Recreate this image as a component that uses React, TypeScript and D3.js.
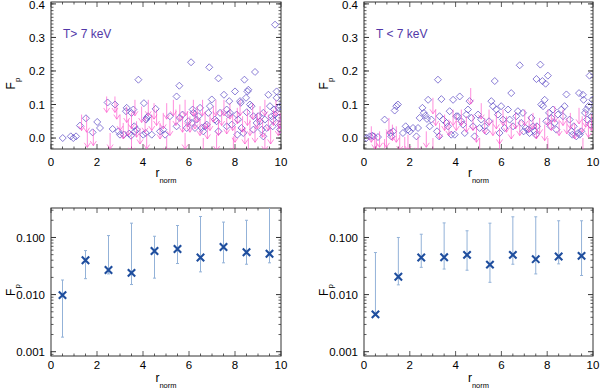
import React from 'react'
import * as d3 from 'd3'

const W = 600
const H = 391

// top row: single measurements (diamonds) and upper limits (arrows)
const hotDiaR = [0.51, 0.86, 0.97, 1.09, 1.26, 1.52, 1.81, 2.01, 2.13, 2.46, 2.78, 2.68, 2.93, 3.0, 3.17, 3.26, 3.29, 3.5, 3.58, 3.4, 3.48, 3.65, 3.72, 3.62, 3.8, 4.01, 4.12, 4.04, 4.16, 4.22, 4.13, 4.55, 4.38, 4.74, 4.88, 4.96, 5.17, 5.46, 5.58, 5.46, 5.6, 5.72, 5.9, 5.97, 6.09, 6.16, 6.19, 6.12, 6.26, 6.33, 6.48, 6.41, 6.55, 6.62, 6.7, 6.88, 6.84, 6.91, 6.99, 6.77, 7.28, 7.13, 7.2, 7.35, 7.28, 7.52, 7.64, 7.71, 7.78, 7.75, 7.64, 7.86, 8.0, 8.07, 8.14, 8.22, 8.25, 8.1, 8.28, 8.36, 8.41, 8.48, 8.51, 8.54, 8.58, 8.65, 8.72, 8.8, 8.8, 8.87, 8.94, 9.01, 9.09, 9.16, 9.23, 9.3, 9.23, 9.38, 9.45, 9.52, 9.6, 9.64, 9.74, 9.81, 9.81, 9.7, 9.64, 9.74, 9.88, 9.96, 9.88, 9.96, 9.96]
const hotDiaF = [0, 0.005, 0, 0.005, 0.037, 0.059, 0.017, 0.048, 0.03, 0.106, 0.1, 0.027, 0.02, 0.01, 0.01, 0.08, 0.09, 0.075, 0.085, 0.013, 0.007, 0.02, 0.025, 0.035, 0.174, 0.01, 0.015, 0.104, 0.06, 0.065, 0.055, 0.087, 0.01, 0.02, 0.025, 0.01, 0.065, 0.124, 0.156, 0.035, 0.06, 0.07, 0.03, 0.05, 0.226, 0.085, 0.075, 0.045, 0.03, 0.055, 0.09, 0.065, 0.03, 0.02, 0.035, 0.211, 0.075, 0.095, 0.115, 0.04, 0.178, 0.055, 0.05, 0.075, 0.02, 0.129, 0.085, 0.07, 0.075, 0.11, 0.035, 0.04, 0.139, 0.07, 0.055, 0.11, 0.105, 0.01, 0.03, 0.015, 0.174, 0.12, 0.077, 0.139, 0.144, 0.1, 0.095, 0.065, 0.025, 0.197, 0.045, 0.065, 0.05, 0.025, 0.075, 0.055, 0.005, 0.03, 0.129, 0.095, 0.065, 0.055, 0.338, 0.139, 0.12, 0.085, 0.035, 0.07, 0.09, 0.095, 0.06, 0.04, 0.025]
const hotLimR = [1.33, 1.55, 1.84, 2.42, 2.78, 2.86, 3.0, 3.14, 3.29, 3.36, 3.5, 3.65, 3.72, 3.87, 3.94, 4.09, 4.23, 4.38, 4.48, 4.59, 4.74, 4.88, 5.03, 5.17, 5.32, 5.43, 5.6, 5.72, 5.83, 5.93, 6.04, 6.19, 6.26, 6.36, 6.48, 6.59, 6.7, 6.8, 6.91, 7.06, 7.17, 7.28, 7.42, 7.52, 7.64, 7.78, 7.9, 8.0, 8.1, 8.22, 8.33, 8.43, 8.54, 8.65, 8.77, 8.87, 8.97, 9.09, 9.2, 9.3, 9.45, 9.55, 9.67, 9.78, 9.88, 9.96, 1.58, 2.57, 3.5, 4.16, 5.03, 5.83, 6.62, 7.2, 7.93, 8.58, 9.3]
const hotLimF = [0.07, 0.065, 0.025, 0.124, 0.124, 0.104, 0.07, 0.045, 0.094, 0.055, 0.075, 0.114, 0.05, 0.03, 0.094, 0.065, 0.114, 0.07, 0.104, 0.085, 0.045, 0.075, 0.104, 0.055, 0.114, 0.085, 0.1, 0.065, 0.114, 0.08, 0.065, 0.114, 0.075, 0.095, 0.055, 0.114, 0.075, 0.045, 0.07, 0.095, 0.114, 0.055, 0.085, 0.114, 0.06, 0.104, 0.07, 0.035, 0.09, 0.114, 0.065, 0.03, 0.085, 0.055, 0.104, 0.035, 0.075, 0.095, 0.05, 0.114, 0.07, 0.03, 0.085, 0.114, 0.055, 0.075, 0.02, 0.015, 0.005, 0.015, 0.005, 0.015, 0, 0.01, 0.005, 0, 0.01]

const coolDiaR = [0.1, 0.25, 0.36, 0.42, 0.61, 0.9, 1.19, 1.15, 1.34, 1.41, 1.48, 1.27, 1.7, 1.82, 1.92, 2.0, 2.14, 2.29, 2.36, 2.43, 2.55, 2.61, 2.69, 2.75, 2.8, 2.87, 2.94, 3.23, 3.28, 3.19, 3.3, 3.38, 3.45, 3.6, 3.67, 3.74, 3.89, 3.81, 3.96, 4.03, 4.1, 4.18, 4.25, 4.32, 4.4, 4.47, 4.54, 4.61, 4.69, 4.76, 4.83, 4.98, 5.12, 5.05, 5.27, 5.34, 5.46, 5.56, 5.63, 5.71, 5.78, 5.85, 5.92, 5.99, 6.07, 6.14, 6.29, 6.36, 6.43, 6.51, 6.65, 6.72, 6.8, 6.87, 6.94, 6.97, 7.06, 7.16, 7.23, 7.31, 7.38, 7.45, 7.5, 7.55, 7.53, 7.7, 7.74, 7.82, 7.89, 7.79, 7.93, 8.03, 7.96, 8.08, 8.14, 8.18, 8.25, 8.33, 8.4, 8.47, 8.62, 8.69, 8.76, 8.84, 8.98, 9.06, 9.1, 9.16, 9.39, 9.56, 9.59, 9.27, 9.35, 9.42, 9.49, 9.65, 9.71, 9.74, 9.8, 9.85, 9.88, 9.93, 9.97]
const coolDiaF = [0, 0.005, 0.007, 0.005, 0.003, 0.055, 0.005, 0.015, 0.082, 0.095, 0.1, 0.02, 0.015, 0.035, 0.025, 0.02, 0.03, 0.005, 0.03, 0.06, 0.09, 0.075, 0.067, 0.057, 0.114, 0.035, 0.055, 0.174, 0.005, 0.02, 0.065, 0.116, 0.055, 0.045, 0.035, 0.08, 0.114, 0.01, 0.01, 0.065, 0.065, 0.124, 0.05, 0.04, 0.015, 0.07, 0.085, 0.11, 0.06, 0.035, 0.005, 0.07, 0.055, 0.03, 0.035, 0.02, 0.05, 0.11, 0.095, 0.17, 0.085, 0.07, 0.015, 0.095, 0.055, 0.03, 0.085, 0.055, 0.134, 0.035, 0.065, 0.08, 0.217, 0.045, 0.075, 0.02, 0.03, 0.025, 0.015, 0.06, 0.035, 0.02, 0.01, 0.035, 0.176, 0.219, 0.1, 0.095, 0.114, 0.17, 0.162, 0.186, 0.05, 0.075, 0.035, 0.06, 0.085, 0.045, 0.025, 0.07, 0.085, 0.065, 0.095, 0.13, 0.055, 0.02, 0.01, 0.035, 0.134, 0.129, 0.114, 0.005, 0.015, 0.01, 0.02, 0.075, 0.085, 0.055, 0.095, 0.186, 0.04, 0.065, 0.114]
const coolLimR = [0.32, 0.47, 0.68, 0.98, 1.09, 1.24, 1.41, 1.56, 1.92, 2.36, 2.72, 3.01, 3.13, 3.3, 3.52, 3.71, 3.89, 4.03, 4.25, 4.66, 4.47, 4.76, 4.91, 5.12, 5.27, 5.46, 5.63, 5.78, 5.92, 6.07, 6.22, 6.43, 6.62, 6.8, 7.02, 7.21, 7.38, 7.53, 7.67, 7.89, 8.03, 8.18, 8.33, 8.52, 8.69, 8.86, 9.01, 9.2, 9.39, 9.53, 9.68, 9.8, 9.93, 0.54, 0.9, 1.78, 3.01, 5.05, 5.92, 8.03, 9.56]
const coolLimF = [0.035, 0.015, 0.02, 0.02, 0.06, 0.04, 0.035, 0.01, 0.01, 0.005, 0.02, 0.12, 0.085, 0.045, 0.07, 0.055, 0.085, 0.07, 0.085, 0.149, 0.065, 0.07, 0.035, 0.104, 0.06, 0.085, 0.055, 0.075, 0.03, 0.085, 0.065, 0.045, 0.075, 0.055, 0.085, 0.065, 0.075, 0.045, 0.06, 0.04, 0.085, 0.07, 0.095, 0.055, 0.085, 0.06, 0.075, 0.045, 0.09, 0.065, 0.08, 0.05, 0.07, 0, -0.003, 0.003, 0, 0, -0.003, 0, 0]

// bottom row: binned values with error bars
const binR = [0.5, 1.5, 2.5, 3.5, 4.5, 5.5, 6.5, 7.5, 8.5, 9.5]
const hotFp = [0.0098, 0.040, 0.027, 0.024, 0.058, 0.063, 0.0445, 0.068, 0.055, 0.052]
const hotLo = [0.0018, 0.019, 0.023, 0.015, 0.0194, 0.035, 0.025, 0.036, 0.034, 0.036]
const hotHi = [0.018, 0.059, 0.108, 0.178, 0.105, 0.162, 0.233, 0.186, 0.2, 0.4]
const coolFp = [0.0045, 0.0205, 0.0445, 0.045, 0.0496, 0.0335, 0.0496, 0.0417, 0.0464, 0.0477]
const coolLo = [0.0045, 0.0148, 0.030, 0.028, 0.0267, 0.0164, 0.034, 0.023, 0.0345, 0.0216]
const coolHi = [0.0545, 0.1, 0.114, 0.18, 0.131, 0.178, 0.23, 0.23, 0.196, 0.196]

const rTicks = [0, 2, 4, 6, 8, 10]
const linTicks = [0, 0.1, 0.2, 0.3, 0.4]
const linLabels = ['0.0', '0.1', '0.2', '0.3', '0.4']
const logTicks = [0.001, 0.01, 0.1]
const logLabels = ['0.001', '0.010', '0.100']

const FONT = 'Liberation Sans, Arial, Helvetica, sans-serif'
const AXIS = '#333'
const DIA = '#5a48c4'
const LIM = '#ff48c8'
const CROSS = '#1f4e9e'
const ERR = '#93b2d8'

type Box = { x0: number, x1: number, y0: number, y1: number }

function Frame ({ id, box, x, y, yTicks, yLabels, yMinor, tickY, rY }: any) {
  const xMinor = d3.range(0, 21).map(i => i / 2)
  const { x0, x1, y0, y1 } = box
  return (
    <g>
      <rect x={x0} y={y0} width={x1 - x0} height={y1 - y0} fill='none' stroke={AXIS} strokeWidth={1} />
      {xMinor.map((v: number) => {
        const len = v % 2 === 0 ? 5 : 2.5
        return (
          <g key={'xm' + v} stroke={AXIS} strokeWidth={0.8}>
            <line x1={x(v)} x2={x(v)} y1={y1} y2={y1 - len} />
            <line x1={x(v)} x2={x(v)} y1={y0} y2={y0 + len} />
          </g>
        )
      })}
      {yMinor.map((v: number, i: number) => (
        <g key={'ym' + i} stroke={AXIS} strokeWidth={0.8}>
          <line x1={x0} x2={x0 + 2.5} y1={y(v)} y2={y(v)} />
          <line x1={x1} x2={x1 - 2.5} y1={y(v)} y2={y(v)} />
        </g>
      ))}
      {yTicks.map((v: number, i: number) => (
        <g key={'yt' + i}>
          <line x1={x0} x2={x0 + 5} y1={y(v)} y2={y(v)} stroke={AXIS} />
          <line x1={x1} x2={x1 - 5} y1={y(v)} y2={y(v)} stroke={AXIS} />
          <text x={x0 - 6} y={Math.max(y(v), 5)} dy='0.36em' textAnchor='end' fontSize={11.5} fontFamily={FONT}>{yLabels[i]}</text>
        </g>
      ))}
      {rTicks.map(v => (
        <text key={'xt' + v} x={x(v)} y={tickY} textAnchor='middle' fontSize={11.5} fontFamily={FONT}>{v}</text>
      ))}
      <text x={(x0 + x1) / 2} y={rY} textAnchor='middle' fontSize={12} fontFamily={FONT}>
        r<tspan dy={6} fontSize={7.5}>norm</tspan>
      </text>
      <text transform={`translate(${x0 - 36},${(y0 + y1) / 2 + 8}) rotate(-90)`} textAnchor='middle' fontSize={12} fontFamily={FONT}>
        F<tspan dy={5} fontSize={8}>p</tspan>
      </text>
      <clipPath id={id}>
        <rect x={x0} y={y0} width={x1 - x0} height={y1 - y0} />
      </clipPath>
    </g>
  )
}

function Scatter ({ id, box, diaR, diaF, limR, limF, label }: any) {
  const b: Box = box
  const x = d3.scaleLinear().domain([0, 10]).range([b.x0, b.x1])
  const y = d3.scaleLinear().domain([-0.0327, 0.4057]).range([b.y1, b.y0])
  const yMinor = d3.range(-3, 41).map(i => i / 100)
  const s = 3.5
  return (
    <g>
      <Frame id={id} box={b} x={x} y={y} yTicks={linTicks} yLabels={linLabels} yMinor={yMinor} tickY={166} rY={177} />
      <g clipPath={`url(#${id})`}>
        <g fill='none' stroke={DIA} strokeOpacity={0.8} strokeWidth={0.9}>
          {diaR.map((r: number, i: number) => {
            const cx = x(r), cy = y(diaF[i])
            return <path key={i} d={`M${cx},${cy - s}L${cx + s},${cy}L${cx},${cy + s}L${cx - s},${cy}Z`} />
          })}
        </g>
        <g fill='none' stroke={LIM} strokeOpacity={0.62} strokeWidth={1}>
          {limR.map((r: number, i: number) => {
            const cx = x(r), cy = y(limF[i])
            return <path key={i} d={`M${cx},${cy}V${cy + 16}M${cx - 3},${cy + 11.5}L${cx},${cy + 16}L${cx + 3},${cy + 11.5}`} />
          })}
        </g>
      </g>
      <text x={b.x0 + 12} y={38} fontSize={12} fontFamily={FONT} fill='#5238a8'>{label}</text>
    </g>
  )
}

function Binned ({ id, box, fp, lo, hi }: any) {
  const b: Box = box
  const x = d3.scaleLinear().domain([0, 10]).range([b.x0, b.x1])
  const y = d3.scaleLog().domain([Math.pow(10, -3.075), Math.pow(10, -0.484)]).range([b.y1, b.y0])
  const yMinor: number[] = []
  for (let d = -4; d <= 0; d++) {
    for (let k = 2; k <= 9; k++) {
      const v = k * Math.pow(10, d)
      if (v > y.domain()[0] && v < y.domain()[1]) yMinor.push(v)
    }
  }
  const s = 3.7
  return (
    <g>
      <Frame id={id} box={b} x={x} y={y} yTicks={logTicks} yLabels={logLabels} yMinor={yMinor} tickY={369} rY={382} />
      <g clipPath={`url(#${id})`}>
        <g stroke={ERR} strokeWidth={1}>
          {binR.map((r, i) => (
            <g key={i}>
              <line x1={x(r)} x2={x(r)} y1={y(lo[i])} y2={y(hi[i])} />
              <line x1={x(r) - 1.5} x2={x(r) + 1.5} y1={y(lo[i])} y2={y(lo[i])} />
              <line x1={x(r) - 1.5} x2={x(r) + 1.5} y1={y(hi[i])} y2={y(hi[i])} />
            </g>
          ))}
        </g>
        <g stroke={CROSS} strokeWidth={2.1}>
          {binR.map((r, i) => {
            const cx = x(r), cy = y(fp[i])
            return <path key={i} d={`M${cx - s},${cy - s}L${cx + s},${cy + s}M${cx - s},${cy + s}L${cx + s},${cy - s}`} />
          })}
        </g>
      </g>
    </g>
  )
}

export default function App () {
  return (
    <svg width={W} height={H} viewBox={`0 0 ${W} ${H}`} style={{ position: 'absolute', left: 0, top: 0, background: '#fff' }}>
      <Scatter id='c1' box={{ x0: 51, x1: 281, y0: 2, y1: 149 }} diaR={hotDiaR} diaF={hotDiaF} limR={hotLimR} limF={hotLimF} label='T> 7 keV' />
      <Scatter id='c2' box={{ x0: 364, x1: 593, y0: 2, y1: 149 }} diaR={coolDiaR} diaF={coolDiaF} limR={coolLimR} limF={coolLimF} label='T < 7 keV' />
      <Binned id='c3' box={{ x0: 51, x1: 281, y0: 208, y1: 356 }} fp={hotFp} lo={hotLo} hi={hotHi} />
      <Binned id='c4' box={{ x0: 364, x1: 593, y0: 208, y1: 356 }} fp={coolFp} lo={coolLo} hi={coolHi} />
    </svg>
  )
}
